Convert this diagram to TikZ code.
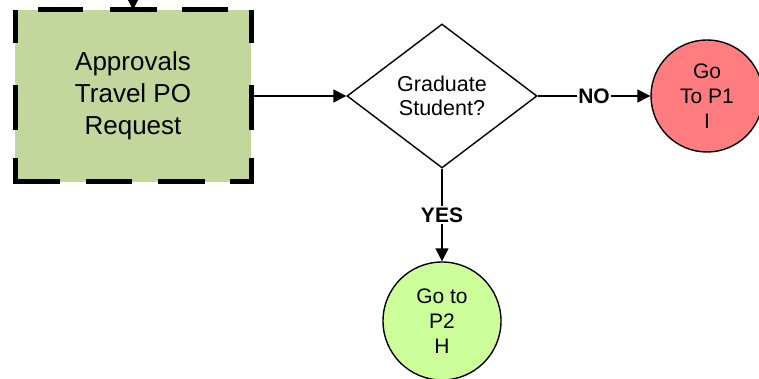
\documentclass[tikz,border=0pt]{standalone}
\usepackage{fontspec}
\setmainfont{Liberation Sans}
\usetikzlibrary{shapes.geometric,arrows.meta}
\definecolor{boxgreen}{HTML}{C3D69B}
\definecolor{redcirc}{HTML}{FF7C80}
\definecolor{greencirc}{HTML}{CCFF99}
\tikzset{
  conn/.style={line width=1.4pt,-{Triangle[length=13pt,width=13pt]}},
  boxdash/.style={line width=5pt},
  decision/.style={diamond,draw,line width=1.4pt,fill=white,inner sep=0pt,
    minimum width=190pt,minimum height=144pt,aspect=1.32,align=center,
    font=\fontsize{21.5}{24}\selectfont},
  offpage/.style={circle,draw,line width=1.4pt,inner sep=0pt,align=center,
    font=\fontsize{21}{25}\selectfont},
  lbl/.style={fill=white,inner sep=1.5pt,font=\fontsize{21}{22}\selectfont\bfseries}
}
\begin{document}
\begin{tikzpicture}[x=1pt,y=-1pt]
\useasboundingbox (0,0) rectangle (759,379);
\node[fill=boxgreen,minimum width=236pt,minimum height=172pt,inner sep=0pt,
  align=center,font=\fontsize{26}{32}\selectfont] (box) at (133,96)
  {Approvals\\Travel PO\\Request};
% dashed border
\foreach \a/\b in {10/43,85/130,158/184}{
  \draw[boxdash] (15.5,\a) -- (15.5,\b);
  \draw[boxdash] (251,\a) -- (251,\b);}
\foreach \a/\b in {38/83,110/157,182/228}{
  \draw[boxdash] (\a,9.5) -- (\b,9.5);}
\foreach \a/\b in {13/60,86/132,158/205,230/253.5}{
  \draw[boxdash] (\a,182) -- (\b,182);}
\coordinate (top) at (133,-2);
\node[decision] (dec) at (442,96) {Graduate\\Student?};
\node[offpage,fill=redcirc,minimum size=112pt] (p1) at (707,96) {Go\\To P1\\I};
\node[offpage,fill=greencirc,minimum size=118pt] (p2) at (442,321) {Go to\\P2\\H};
\draw[conn] (top) -- (box.north);
\draw[conn] (box.east) -- (dec.west);
\draw[conn] (dec.east) -- node[lbl]{NO} (p1.west);
\draw[conn] (dec.south) -- node[lbl]{YES} (p2.north);
\end{tikzpicture}
\end{document}
